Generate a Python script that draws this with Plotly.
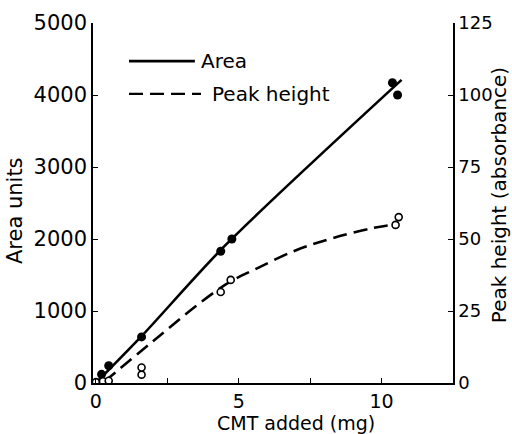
import plotly.graph_objects as go

# Data
area_x = [0.2, 0.45, 1.6, 4.37, 4.76, 10.38, 10.56]
area_y = [120, 240, 640, 1830, 2000, 4170, 4000]

peak_x = [0.0, 0.25, 0.45, 1.6, 1.6, 4.37, 4.72, 10.49, 10.6]
peak_y = [0.3, 0.6, 0.8, 2.9, 5.4, 31.6, 35.8, 54.9, 57.6]

area_fit_x = [0.0, 1.6, 4.5, 10.7]
area_fit_y = [0, 650, 1900, 4210]

peak_fit_x = [0.3, 2.0, 3.64, 4.69, 5.66, 7.03, 8.29, 9.69, 10.35]
peak_fit_y = [0.5, 14.5, 27.8, 35.1, 39.9, 46.2, 50.3, 53.8, 54.9]

x_ticks = [0, 2.5, 5, 7.5, 10, 12.5]
x_ticklabels = ["0", "", "5", "", "10", ""]
y_ticks = [0, 1000, 2000, 3000, 4000, 5000]
y2_ticks = [0, 25, 50, 75, 100, 125]

FONT = "DejaVu Sans"
fig = go.Figure()

fig.add_trace(go.Scatter(x=area_fit_x, y=area_fit_y, mode="lines",
                         line=dict(color="black", width=2.6, shape="spline", smoothing=0.8),
                         showlegend=False, hoverinfo="skip"))
fig.add_trace(go.Scatter(x=peak_fit_x, y=peak_fit_y, mode="lines", yaxis="y2",
                         line=dict(color="black", width=2.6, dash="14px,7px", shape="spline", smoothing=1.0),
                         showlegend=False, hoverinfo="skip"))
fig.add_trace(go.Scatter(x=area_x, y=area_y, mode="markers",
                         marker=dict(color="black", size=9, line=dict(width=0)),
                         showlegend=False))
fig.add_trace(go.Scatter(x=peak_x, y=peak_y, mode="markers", yaxis="y2",
                         marker=dict(color="white", size=7, line=dict(color="black", width=1.6)),
                         showlegend=False))

# legend drawn manually
fig.add_shape(type="line", xref="paper", yref="paper", x0=0.10, x1=0.283, y0=0.894, y1=0.894,
              line=dict(color="black", width=2.8))
fig.add_shape(type="line", xref="paper", yref="paper", x0=0.10, x1=0.30, y0=0.803, y1=0.803,
              line=dict(color="black", width=2.4, dash="14px,7px"))
fig.add_annotation(xref="paper", yref="paper", x=0.294, y=0.894, text="Area", showarrow=False,
                   xanchor="left", yanchor="middle", font=dict(family=FONT, size=20, color="black"))
fig.add_annotation(xref="paper", yref="paper", x=0.325, y=0.803, text="Peak height", showarrow=False,
                   xanchor="left", yanchor="middle", font=dict(family=FONT, size=20, color="black"))

# axis titles
fig.add_annotation(xref="paper", yref="paper", x=0.564, y=-0.112, text="CMT added (mg)", showarrow=False,
                   xanchor="center", yanchor="middle", font=dict(family=FONT, size=19, color="black"))
fig.add_annotation(xref="paper", yref="paper", x=-0.217, y=0.48, text="Area units", showarrow=False,
                   textangle=-90, xanchor="center", yanchor="middle",
                   font=dict(family=FONT, size=21, color="black"))
fig.add_annotation(xref="paper", yref="paper", x=1.128, y=0.522, text="Peak height (absorbance)", showarrow=False,
                   textangle=-90, xanchor="center", yanchor="middle",
                   font=dict(family=FONT, size=20, color="black"))

axis_common = dict(showgrid=False, zeroline=False, showline=True, linecolor="black", linewidth=1.5,
                   ticks="inside", ticklen=5, tickwidth=1.3, tickcolor="black",
                   tickfont=dict(family=FONT, size=21, color="black"))

fig.update_layout(
    width=512, height=434,
    margin=dict(l=93, r=59, t=23, b=51),
    paper_bgcolor="white", plot_bgcolor="white",
    showlegend=False,
    xaxis=dict(range=[-0.1, 12.5], tickvals=x_ticks, ticktext=x_ticklabels, **axis_common),
    yaxis=dict(range=[0, 5000], tickvals=y_ticks, **axis_common),
    yaxis2=dict(range=[0, 125], tickvals=y2_ticks, overlaying="y", side="right", **axis_common),
)
fig.update_layout(yaxis2_tickfont=dict(family=FONT, size=18, color="black"),
                  xaxis_tickfont=dict(family=FONT, size=19, color="black"))

fig.write_html("out.html", config={"displayModeBar": False},
               post_script="document.body.style.margin='0';document.body.style.overflow='hidden';")
